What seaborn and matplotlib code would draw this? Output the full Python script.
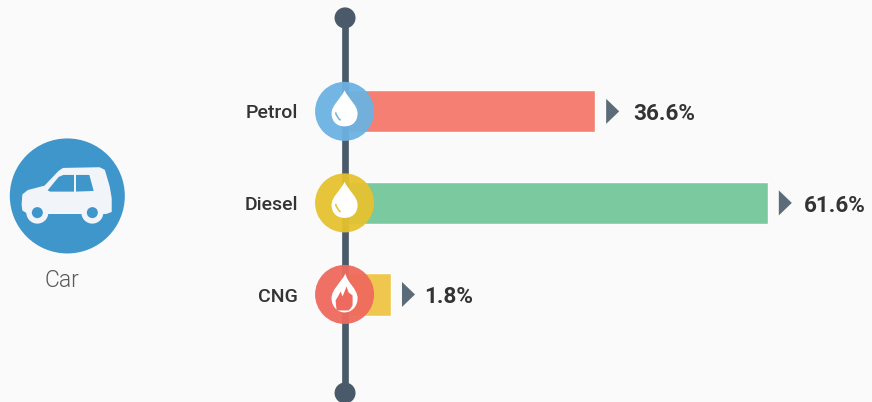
import matplotlib
matplotlib.use("Agg")
import matplotlib.pyplot as plt
import seaborn as sns
import pandas as pd
from matplotlib.path import Path
from matplotlib.patches import Circle, PathPatch, Polygon

# Data
fuels = ["Petrol", "Diesel", "CNG"]
bar_lengths = [36.5, 61.7, 6.7]  # drawn length, CNG bar is longer than its label
value_labels = ["36.6%", "61.6%", "1.8%"]
bar_colors = ["#f47f72", "#7bc99e", "#efc74f"]
circle_colors = ["#6cb2e2", "#e5c22f", "#ef6a5e"]
icons = ["drop", "drop", "flame"]
label_gaps = [38, 36, 33]

BG = "#fafafa"
LINE = "#4a5a6b"
ARROW = "#5b6b79"
TEXT = "#333333"

W, H = 872, 402
PX_PER_UNIT = 6.85
AXIS_X = 345
ROW_TOP = 111.5
ROW_STEP = 91.5

sns.set_theme(style="white")
plt.rcParams["font.family"] = ["Roboto", "DejaVu Sans"]

fig = plt.figure(figsize=((W + 0.1) / 100, (H + 0.1) / 100), dpi=100, facecolor=BG)
ax = fig.add_axes([0, 0, 1, 1], facecolor=BG)

df = pd.DataFrame({"fuel": fuels, "length": bar_lengths})
sns.barplot(data=df, x="length", y="fuel", hue="fuel", palette=bar_colors,
            width=0.46, saturation=1, legend=False, ax=ax)
ax.set_xlim(-AXIS_X / PX_PER_UNIT, (W - AXIS_X) / PX_PER_UNIT)
ax.set_ylim((H - ROW_TOP) / ROW_STEP, -ROW_TOP / ROW_STEP)
ax.axis("off")

# Overlay in pixel coordinates for the timeline and icons
px = fig.add_axes([0, 0, 1, 1])
px.set_xlim(0, W)
px.set_ylim(H, 0)
px.axis("off")
px.patch.set_alpha(0)


def to_px(x, y):
    a, b = ax.transData.transform((x, y))
    return a, H - b


def drop(cx, cy, color):
    # cy is the row centre, the drop sits around it
    top = cy - 21
    bot = cy + 15
    verts = [
        (cx, top),
        (cx + 5, top + 10), (cx + 13, top + 15), (cx + 13, top + 23),
        (cx + 13, bot - 4), (cx + 7, bot), (cx, bot),
        (cx - 7, bot), (cx - 13, bot - 4), (cx - 13, top + 23),
        (cx - 13, top + 15), (cx - 5, top + 10), (cx, top),
    ]
    codes = [Path.MOVETO] + [Path.CURVE4] * 12
    px.add_patch(PathPatch(Path(verts, codes), fc="white", ec="none", zorder=6))
    hl = Path([(cx - 9, cy + 1), (cx - 8, cy + 6), (cx - 4, cy + 9)],
              [Path.MOVETO, Path.CURVE3, Path.CURVE3])
    px.add_patch(PathPatch(hl, fc="none", ec=color, lw=1.1, zorder=7))


def flame(cx, cy, color):
    verts = [
        (cx + 1, cy - 21),
        (cx + 2, cy - 12), (cx + 13, cy - 6), (cx + 13, cy + 4),
        (cx + 13, cy + 12), (cx + 7, cy + 18), (cx, cy + 18),
        (cx - 7, cy + 18), (cx - 13, cy + 12), (cx - 13, cy + 4),
        (cx - 13, cy - 5), (cx - 5, cy - 10), (cx + 1, cy - 21),
    ]
    codes = [Path.MOVETO] + [Path.CURVE4] * 12
    px.add_patch(PathPatch(Path(verts, codes), fc="white", ec="none", zorder=6))
    inner = [
        (cx - 8, cy + 16), (cx - 9, cy + 6), (cx - 6, cy + 1), (cx - 4, cy - 3),
        (cx - 2, cy + 2), (cx + 2, cy - 8), (cx + 2, cy - 8),
        (cx + 4, cy - 2), (cx + 8, cy + 1), (cx + 8, cy + 7),
        (cx + 8, cy + 11), (cx + 6, cy + 14), (cx + 4, cy + 16),
    ]
    px.add_patch(Polygon(inner, closed=True, fc=color, ec="none", zorder=7))


# Timeline
px.plot([AXIS_X, AXIS_X], [18, 393], color=LINE, lw=4.8, solid_capstyle="butt", zorder=2)
px.add_patch(Circle((AXIS_X, 18), 10.5, fc=LINE, ec="none", zorder=3))
px.add_patch(Circle((AXIS_X, 393), 10.5, fc=LINE, ec="none", zorder=3))

for i, fuel in enumerate(fuels):
    x0, y = to_px(0, i)
    xe, _ = to_px(bar_lengths[i], i)
    px.add_patch(Circle((x0 - 0.5, y), 29.5, fc=circle_colors[i], ec="none", alpha=0.95, zorder=5))
    if icons[i] == "drop":
        drop(x0 - 0.5, y, circle_colors[i])
    else:
        flame(x0 - 0.5, y, circle_colors[i])
    px.text(x0 - 47, y, fuel, ha="right", va="center_baseline", fontsize=14,
            fontweight=500, color=TEXT, zorder=8)
    px.add_patch(Polygon([(xe + 11, y - 12.5), (xe + 24, y), (xe + 11, y + 12.5)],
                         closed=True, fc=ARROW, ec="none", zorder=5))
    px.text(xe + label_gaps[i], y, value_labels[i], ha="left", va="center_baseline", fontsize=16.2,
            fontweight="bold", color=TEXT, zorder=8)

# Car badge
CAR_BLUE = "#3f96cb"
px.add_patch(Circle((67.3, 196), 57.5, fc=CAR_BLUE, ec="none", zorder=3))


def z(a, b):
    # zoom-crop coordinates to pixels
    return a / 3, 130 + b / 3


body = [z(68, 225), z(70, 195), z(85, 183), z(135, 170), z(178, 125), z(190, 117),
        z(298, 115), z(312, 122), z(326, 170), z(332, 205), z(332, 244), z(318, 249),
        z(85, 249), z(70, 240)]
px.add_patch(Polygon(body, closed=True, fc="#f1f4f8", ec="#f1f4f8", lw=1.5, joinstyle="round", zorder=4))
for w in [(112, 248), (277, 248)]:
    c = z(*w)
    px.add_patch(Circle(c, 11, fc="#f1f4f8", ec="none", zorder=5))
    px.add_patch(Circle(c, 5.5, fc=CAR_BLUE, ec="none", zorder=6))
px.add_patch(Polygon([z(143, 181), z(176, 141), z(190, 135), z(222, 135), z(222, 185), z(150, 185)],
                     closed=True, fc=CAR_BLUE, ec="none", zorder=5))
px.add_patch(Polygon([z(228, 135), z(268, 135), z(281, 183), z(228, 185)],
                     closed=True, fc=CAR_BLUE, ec="none", zorder=5))
px.text(62, 280, "Car", ha="center", va="center", fontsize=16.5, fontweight=300, color="#5a5a5a", zorder=8)

fig.savefig("out.png", dpi=100, facecolor=BG)
